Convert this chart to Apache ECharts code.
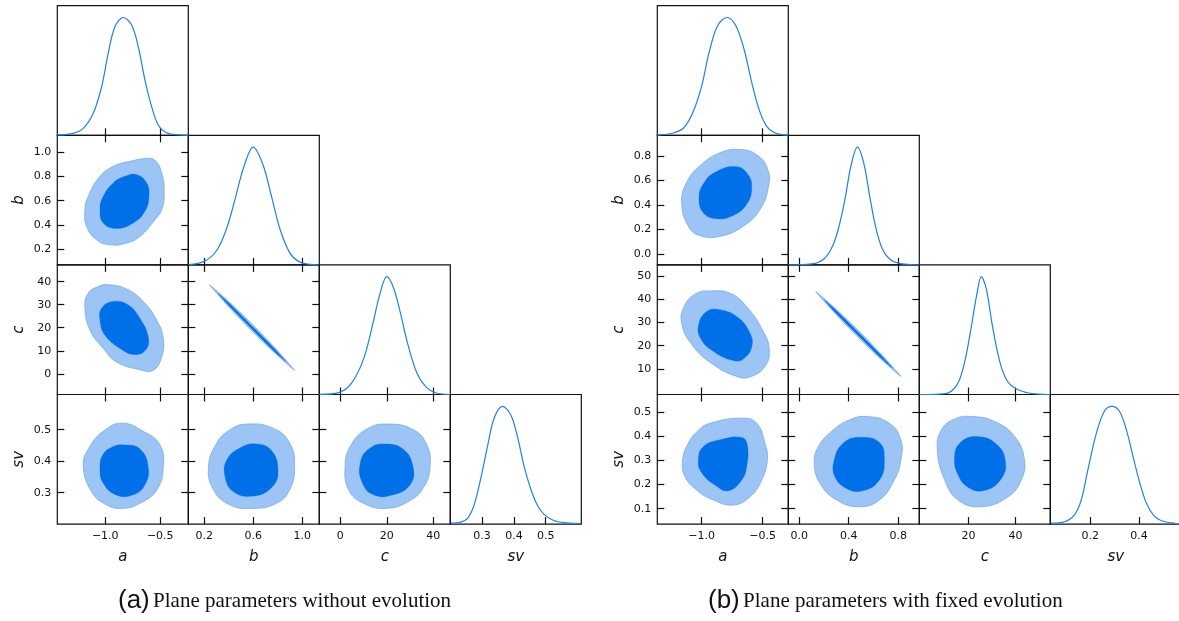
<!DOCTYPE html>
<html><head><meta charset="utf-8">
<script src="https://cdn.jsdelivr.net/npm/echarts@6/dist/echarts.min.js"></script>
<style>html,body{margin:0;padding:0;background:#fff}#c{width:1179px;height:621px}</style>
</head><body><div id="c"></div>
<script>
// ---------- parameters ----------
const paramNames = ['a', 'b', 'c', 'sv'];
const paramDecimals = [1, 1, 0, 1];

// ---------- (a) plane parameters without evolution ----------
const L_range_a = [-1.436, -0.245];
const L_range_b = [0.07, 1.14];
const L_range_c = [-9.0, 47.3];
const L_range_sv = [0.2, 0.612];
const L_xticks_a = [-1.0, -0.5];
const L_xticks_b = [0.2, 0.6, 1.0];
const L_xticks_c = [0, 20, 40];
const L_xticks_sv = [0.3, 0.4, 0.5];
const L_yticks_b = [0.2, 0.4, 0.6, 0.8, 1.0];
const L_yticks_c = [0, 10, 20, 30, 40];
const L_yticks_sv = [0.3, 0.4, 0.5];

const L_pdf_a = [[-1.436,0.003],[-1.291,0.017],[-1.2,0.059],[-1.109,0.187],[-1.033,0.412],[-0.973,0.696],[-0.912,0.922],[-0.836,1.0],[-0.76,0.936],[-0.7,0.752],[-0.639,0.469],[-0.578,0.243],[-0.518,0.087],[-0.442,0.022],[-0.321,0.003],[-0.245,0.0]];
const L_pdf_b = [[0.073,0.003],[0.2,0.03],[0.3,0.12],[0.38,0.3],[0.45,0.55],[0.52,0.82],[0.6,1.0],[0.68,0.85],[0.75,0.58],[0.82,0.3],[0.9,0.1],[0.97,0.03],[1.05,0.006],[1.135,0]];
const L_pdf_c = [[-9,0.001],[0,0.02],[5,0.1],[10,0.3],[14,0.6],[17,0.85],[20,1.0],[23,0.9],[26,0.68],[29,0.43],[33,0.18],[37,0.06],[41,0.015],[47,0]];
const L_pdf_sv = [[0.202,0.008],[0.233,0.017],[0.255,0.051],[0.275,0.164],[0.296,0.39],[0.317,0.659],[0.338,0.9],[0.364,1.0],[0.39,0.928],[0.411,0.744],[0.431,0.503],[0.452,0.306],[0.473,0.164],[0.494,0.085],[0.525,0.031],[0.567,0.011],[0.608,0.005]];

const L_ab_outer = [[-0.548,0.934],[-0.624,0.948],[-0.775,0.925],[-0.927,0.884],[-1.048,0.801],[-1.155,0.636],[-1.185,0.526],[-1.169,0.387],[-1.078,0.277],[-0.957,0.236],[-0.805,0.25],[-0.685,0.305],[-0.548,0.443],[-0.487,0.526],[-0.464,0.664],[-0.487,0.829]];
const L_ab_inner = [[-0.715,0.815],[-0.624,0.747],[-0.603,0.636],[-0.639,0.512],[-0.745,0.416],[-0.896,0.371],[-1.018,0.416],[-1.048,0.526],[-1.018,0.636],[-0.927,0.747],[-0.821,0.801]];
const L_ac_outer = [[-0.973,38.7],[-0.805,36.8],[-0.655,31.4],[-0.533,23.4],[-0.473,15.3],[-0.487,7.3],[-0.564,1.5],[-0.685,1.8],[-0.896,5.1],[-1.018,11],[-1.139,19],[-1.185,29.2],[-1.155,35],[-1.064,37.9]];
const L_ac_inner = [[-0.927,31.4],[-0.791,29.9],[-0.685,24.1],[-0.609,16],[-0.63,10.5],[-0.73,8.3],[-0.866,11],[-1.003,16.8],[-1.048,23.4],[-1.033,28.5]];
const L_asv_outer = [[-0.851,0.521],[-0.655,0.495],[-0.503,0.452],[-0.473,0.378],[-0.533,0.308],[-0.685,0.266],[-0.836,0.25],[-0.987,0.261],[-1.124,0.303],[-1.2,0.388],[-1.139,0.447],[-1.018,0.495]];
const L_asv_inner = [[-0.836,0.452],[-0.685,0.439],[-0.609,0.381],[-0.639,0.325],[-0.745,0.293],[-0.896,0.292],[-1.018,0.33],[-1.048,0.381],[-1.018,0.423],[-0.927,0.447]];
const L_bc_outer = [[0.243,38.7],[0.4285,30.02],[0.604,20.88],[0.7755,11.42],[0.938,1.5],[0.7525,10.18],[0.576,19.32],[0.4055,28.78]];
const L_bc_inner = [[0.3125,34.98],[0.4227,29.71],[0.5957,20.41],[0.7697,11.11],[0.869,5.22],[0.7583,10.49],[0.5843,19.79],[0.4113,29.09]];
const L_bsv_outer = [[0.546,0.518],[0.762,0.505],[0.898,0.458],[0.938,0.383],[0.898,0.309],[0.79,0.266],[0.6,0.25],[0.411,0.261],[0.276,0.309],[0.235,0.383],[0.303,0.458],[0.411,0.5]];
const L_bsv_inner = [[0.627,0.455],[0.749,0.434],[0.803,0.372],[0.757,0.319],[0.6,0.289],[0.438,0.303],[0.37,0.351],[0.384,0.404],[0.492,0.442]];
const L_csv_outer = [[20.7,0.518],[31.4,0.5],[37.2,0.452],[38.6,0.383],[36,0.319],[30,0.275],[20,0.25],[10,0.266],[3.6,0.309],[2.1,0.383],[4.3,0.447],[11.4,0.502]];
const L_csv_inner = [[18.6,0.455],[27.1,0.438],[31.4,0.378],[30,0.325],[22.8,0.293],[14.3,0.293],[9.3,0.335],[8.6,0.394],[12.1,0.438]];

// ---------- (b) plane parameters with fixed evolution ----------
const R_range_a = [-1.364, -0.29];
const R_range_b = [-0.088, 0.97];
const R_range_c = [-1.0, 54.8];
const R_range_sv = [0.036, 0.573];
const R_xticks_a = [-1.0, -0.5];
const R_xticks_b = [0.0, 0.4, 0.8];
const R_xticks_c = [20, 40];
const R_xticks_sv = [0.2, 0.4];
const R_yticks_b = [0.0, 0.2, 0.4, 0.6, 0.8];
const R_yticks_c = [10, 20, 30, 40, 50];
const R_yticks_sv = [0.1, 0.2, 0.3, 0.4, 0.5];

const R_pdf_a = [[-1.364,0.002],[-1.25,0.015],[-1.15,0.06],[-1.07,0.2],[-1.0,0.42],[-0.94,0.7],[-0.87,0.93],[-0.793,1.0],[-0.72,0.93],[-0.65,0.72],[-0.59,0.45],[-0.53,0.22],[-0.47,0.08],[-0.41,0.025],[-0.35,0.008],[-0.29,0.002]];
const R_pdf_b = [[-0.088,0],[0.1,0.008],[0.2,0.05],[0.27,0.16],[0.32,0.32],[0.37,0.56],[0.42,0.85],[0.47,1.0],[0.52,0.87],[0.57,0.58],[0.62,0.31],[0.67,0.14],[0.73,0.05],[0.8,0.015],[0.9,0.003],[0.97,0]];
const R_pdf_c = [[-1,0],[10,0.008],[15,0.08],[18,0.25],[20.5,0.5],[23.5,0.85],[25.4,1.0],[27.5,0.9],[30,0.6],[33,0.3],[36,0.13],[40,0.05],[45,0.015],[50,0.003],[54.8,0]];
const R_pdf_sv = [[0.04,0.008],[0.094,0.02],[0.135,0.079],[0.163,0.206],[0.19,0.461],[0.225,0.772],[0.259,0.964],[0.289,1.0],[0.32,0.956],[0.348,0.8],[0.375,0.574],[0.403,0.348],[0.43,0.178],[0.458,0.079],[0.492,0.028],[0.547,0.008]];

const R_ab_outer = [[-0.686,0.854],[-0.549,0.811],[-0.459,0.695],[-0.454,0.544],[-0.522,0.365],[-0.659,0.228],[-0.85,0.145],[-1.014,0.151],[-1.11,0.228],[-1.164,0.421],[-1.123,0.586],[-1.014,0.722],[-0.85,0.827]];
const R_ab_inner = [[-0.713,0.714],[-0.618,0.646],[-0.59,0.536],[-0.631,0.407],[-0.741,0.316],[-0.877,0.289],[-0.987,0.338],[-1.022,0.462],[-0.987,0.572],[-0.891,0.668]];
const R_ac_outer = [[-0.932,43.6],[-0.768,42.6],[-0.631,36.8],[-0.495,26.1],[-0.446,18.3],[-0.481,11.1],[-0.604,6.6],[-0.713,6.8],[-0.905,11.9],[-1.069,19.7],[-1.164,29.7],[-1.137,37.6],[-1.041,42.6]];
const R_ac_inner = [[-0.877,35.7],[-0.713,32.6],[-0.604,25.4],[-0.59,19.4],[-0.659,14.3],[-0.741,13.6],[-0.905,17.6],[-1.014,23.7],[-1.022,29.7],[-0.959,34.7]];
const R_asv_outer = [[-0.932,0.454],[-0.659,0.475],[-0.549,0.454],[-0.481,0.371],[-0.462,0.302],[-0.508,0.219],[-0.604,0.149],[-0.741,0.115],[-0.905,0.136],[-1.041,0.177],[-1.137,0.233],[-1.156,0.302],[-1.11,0.371],[-1.028,0.424]];
const R_asv_inner = [[-0.85,0.385],[-0.672,0.395],[-0.626,0.364],[-0.631,0.274],[-0.672,0.219],[-0.782,0.174],[-0.891,0.198],[-1.0,0.249],[-1.028,0.302],[-0.987,0.357]];
const R_bc_outer = [[0.134,43.3],[0.317,34.8],[0.492,25.8],[0.66,16.5],[0.821,6.8],[0.638,15.3],[0.464,24.3],[0.295,33.6]];
const R_bc_inner = [[0.203,39.65],[0.312,34.5],[0.484,25.35],[0.655,16.2],[0.752,10.45],[0.644,15.6],[0.472,24.75],[0.300,33.9]];
const R_bsv_outer = [[0.541,0.482],[0.728,0.454],[0.821,0.385],[0.821,0.302],[0.768,0.219],[0.648,0.136],[0.488,0.108],[0.301,0.136],[0.168,0.205],[0.122,0.288],[0.155,0.357],[0.275,0.426],[0.408,0.468]];
const R_bsv_inner = [[0.488,0.396],[0.648,0.374],[0.688,0.302],[0.648,0.219],[0.515,0.174],[0.381,0.184],[0.288,0.233],[0.283,0.302],[0.355,0.371]];
const R_csv_outer = [[21.1,0.482],[31.1,0.461],[39.6,0.399],[43.8,0.302],[42.4,0.219],[36.8,0.149],[25.4,0.108],[15.5,0.136],[9.8,0.219],[6.7,0.343],[8.4,0.426],[14,0.471]];
const R_csv_inner = [[23.3,0.399],[31.8,0.368],[35.7,0.295],[33.6,0.219],[26.1,0.174],[19.7,0.189],[15.5,0.24],[14,0.309],[16.2,0.371]];

const captionA = ['(a)', 'Plane parameters without evolution'];
const captionB = ['(b)', 'Plane parameters with fixed evolution'];

// ---------- styles ----------
const COL_LINE = '#1f80ee';
const COL_OUTER = '#9cc4f4';
const COL_OUTER_EDGE = '#74abee';
const COL_INNER = '#0070e8';
const AX = '#111';
const TICK_FONT = 'DejaVu Sans';

const figures = [
  { x0: 57.3, y0: 5.7, w: 131, h: 129.6,
    ranges: [L_range_a, L_range_b, L_range_c, L_range_sv],
    xticks: [L_xticks_a, L_xticks_b, L_xticks_c, L_xticks_sv],
    yticks: [null, L_yticks_b, L_yticks_c, L_yticks_sv],
    pdfs: [L_pdf_a, L_pdf_b, L_pdf_c, L_pdf_sv],
    cont: { '1,0': [L_ab_outer, L_ab_inner], '2,0': [L_ac_outer, L_ac_inner], '3,0': [L_asv_outer, L_asv_inner],
            '2,1': [L_bc_outer, L_bc_inner], '3,1': [L_bsv_outer, L_bsv_inner], '3,2': [L_csv_outer, L_csv_inner] } },
  { x0: 657.3, y0: 5.7, w: 131, h: 129.6,
    ranges: [R_range_a, R_range_b, R_range_c, R_range_sv],
    xticks: [R_xticks_a, R_xticks_b, R_xticks_c, R_xticks_sv],
    yticks: [null, R_yticks_b, R_yticks_c, R_yticks_sv],
    pdfs: [R_pdf_a, R_pdf_b, R_pdf_c, R_pdf_sv],
    cont: { '1,0': [R_ab_outer, R_ab_inner], '2,0': [R_ac_outer, R_ac_inner], '3,0': [R_asv_outer, R_asv_inner],
            '2,1': [R_bc_outer, R_bc_inner], '3,1': [R_bsv_outer, R_bsv_inner], '3,2': [R_csv_outer, R_csv_inner] } }
];

function fmt(dec) {
  return function (v) { return (dec ? Number(v).toFixed(dec) : String(Math.round(v))).replace('-', '\u2212'); };
}

const grids = [], xAxes = [], yAxes = [], series = [];

function tickCfg(vals) {
  return { show: true, inside: true, length: 7, customValues: vals, lineStyle: { color: AX, width: 1.2 } };
}
const noLine = { show: false, onZero: false };

figures.forEach(function (F) {
  for (let i = 0; i < 4; i++) {
    for (let j = 0; j <= i; j++) {
      const g = grids.length;
      grids.push({ left: F.x0 + j * F.w, top: F.y0 + i * F.h, width: F.w, height: F.h,
        show: true, borderColor: AX, borderWidth: 1.2, backgroundColor: 'transparent', outerBoundsMode: 'none', containLabel: false });
      const xr = F.ranges[j];
      const isBottom = (i === 3);
      const xi = xAxes.length;
      xAxes.push({ gridIndex: g, type: 'value', min: xr[0], max: xr[1], position: 'bottom',
        axisLine: noLine, splitLine: { show: false },
        axisTick: tickCfg(F.xticks[j]),
        axisLabel: { show: isBottom, customValues: F.xticks[j], formatter: fmt(paramDecimals[j]), fontFamily: TICK_FONT, fontSize: 11, color: '#111', margin: 7 },
        name: isBottom ? paramNames[j] : '', nameLocation: 'middle', nameGap: 26,
        nameTextStyle: { fontFamily: TICK_FONT, fontStyle: 'italic', fontSize: 15, color: '#111' } });
      const yi = yAxes.length;
      if (i === j) {
        yAxes.push({ gridIndex: g, type: 'value', min: 0, max: 1.1, show: false, axisLine: noLine });
        series.push({ type: 'line', xAxisIndex: xi, yAxisIndex: yi, data: F.pdfs[i], smooth: 0.35, showSymbol: false,
          lineStyle: { color: COL_LINE, width: 1.2 }, silent: true, clip: true });
      } else {
        const yr = F.ranges[i];
        const isLeft = (j === 0);
        yAxes.push({ gridIndex: g, type: 'value', min: yr[0], max: yr[1], position: 'left',
          axisLine: noLine, splitLine: { show: false },
          axisTick: tickCfg(F.yticks[i]),
          axisLabel: { show: isLeft, customValues: F.yticks[i], formatter: fmt(paramDecimals[i]), fontFamily: TICK_FONT, fontSize: 11, color: '#111', margin: 6 },
          name: isLeft ? paramNames[i] : '', nameLocation: 'middle', nameGap: 31, nameRotate: 90,
          nameTextStyle: { fontFamily: TICK_FONT, fontStyle: 'italic', fontSize: 15, color: '#111' } });
        // ticks on top and right
        xAxes.push({ gridIndex: g, type: 'value', min: xr[0], max: xr[1], position: 'top',
          axisLine: noLine, splitLine: { show: false }, axisTick: tickCfg(F.xticks[j]), axisLabel: { show: false } });
        yAxes.push({ gridIndex: g, type: 'value', min: yr[0], max: yr[1], position: 'right',
          axisLine: noLine, splitLine: { show: false }, axisTick: tickCfg(F.yticks[i]), axisLabel: { show: false } });
        const pair = F.cont[i + ',' + j];
        [[pair[0], COL_OUTER, COL_OUTER_EDGE, 0.8], [pair[1], COL_INNER, COL_INNER, 0.3]].forEach(function (c) {
          const pts = c[0];
          const thin = (j === 1 && i === 2);
          series.push({ type: 'custom', xAxisIndex: xi, yAxisIndex: yi, silent: true, clip: true,
            data: [pts[0]],
            renderItem: function (params, api) {
              const p = pts.map(function (v) { return api.coord(v); });
              return { type: 'polygon', shape: { points: p, smooth: thin ? 0.2 : 0.45 },
                style: { fill: c[1], stroke: c[2], lineWidth: c[3] } };
            } });
        });
      }
    }
  }
});

const chart = echarts.init(document.getElementById('c'), null, { renderer: 'canvas' });
chart.setOption({
  animation: false,
  backgroundColor: '#fff',
  grid: grids, xAxis: xAxes, yAxis: yAxes, series: series,
  graphic: [
    { type: 'text', left: 118, top: 588, style: { text: '{s|' + captionA[0] + '} {t|' + captionA[1] + '}',
      rich: { s: { fontFamily: 'Liberation Sans', fontSize: 26, fill: '#111' }, t: { fontFamily: 'Liberation Serif', fontSize: 21, fill: '#111' } } } },
    { type: 'text', left: 708, top: 588, style: { text: '{s|' + captionB[0] + '} {t|' + captionB[1] + '}',
      rich: { s: { fontFamily: 'Liberation Sans', fontSize: 26, fill: '#111' }, t: { fontFamily: 'Liberation Serif', fontSize: 21, fill: '#111' } } } }
  ]
});
</script></body></html>
